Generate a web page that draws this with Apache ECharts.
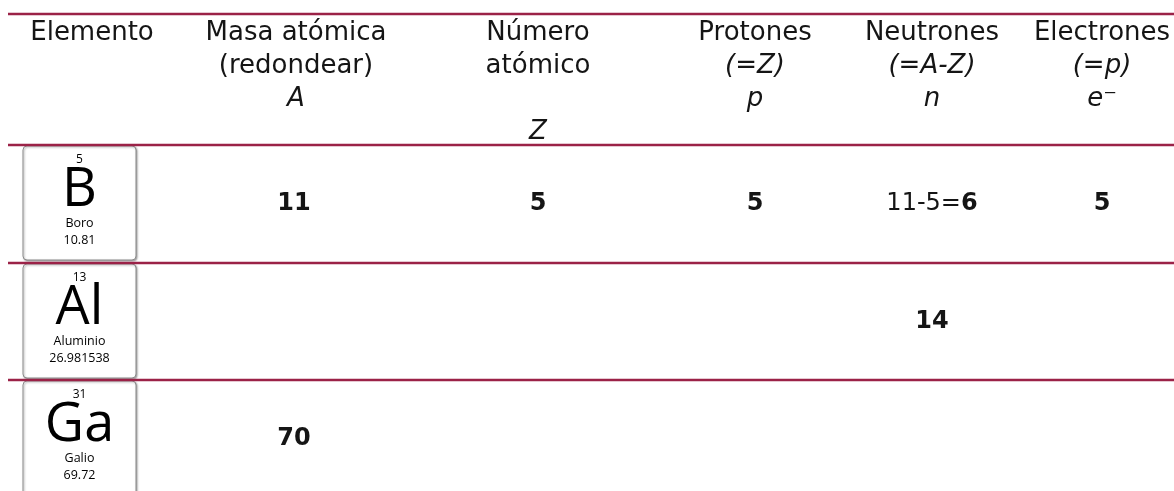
<!DOCTYPE html>
<html><head><meta charset="utf-8">
<script src="https://cdn.jsdelivr.net/npm/echarts@6/dist/echarts.min.js"></script>
<style>html,body{margin:0;padding:0;background:#fff}#c{width:1174px;height:491px}</style>
</head><body><div id="c"></div>
<script>
// ---- data ----
const headers = [
  ['Elemento'],
  ['Masa atómica', '(redondear)', '{i|A}'],
  ['Número', 'atómico', '', '{i|Z}'],
  ['Protones', '{i|(=Z)}', '{i|p}'],
  ['Neutrones', '{i|(=A-Z)}', '{i|n}'],
  ['Electrones', '{i|(=p)}', '{i|e⁻}']
];
const symbols = ['B', 'Al', 'Ga'];
const elementNames = ['Boro', 'Aluminio', 'Galio'];
const atomicNumbers = ['5', '13', '31'];
const atomicMasses = ['10.81', '26.981538', '69.72'];
const massNumberA = ['11', '', '70'];
const atomicNumberZ = ['5', '', ''];
const protons = ['5', '', ''];
const neutronWork = ['11-5=', '', ''];
const neutrons = ['6', '14', ''];
const electrons = ['5', '', ''];

// ---- layout ----
const W = 1174, H = 491;
const headerCenters = [92, 296, 538, 755, 932, 1102];
const bodyCenters = [80, 294, 538, 755, 932, 1102];
const rowEdges = [14, 145, 263, 380, 497];
const lineColor = '#9b2247';
const txt = '#151515';
const fam = '"DejaVu Sans", sans-serif';
const cardFam = '"Open Sans", sans-serif';

const chart = echarts.init(document.getElementById('c'), null, {renderer: 'canvas'});

function headerItem(params, api) {
  const i = params.dataIndex;
  const p = api.coord([headerCenters[i], rowEdges[0] + 3]);
  return {
    type: 'text', x: p[0], y: p[1],
    style: {
      text: headers[i].join('\n'), align: 'center', verticalAlign: 'top',
      font: '26px ' + fam, fill: txt, lineHeight: 33,
      rich: { i: { fontStyle: 'italic', fontSize: 26, fontFamily: 'DejaVu Sans', lineHeight: 33, fill: txt } }
    }
  };
}

function lineItem(params, api) {
  const y = rowEdges[params.dataIndex];
  const a = api.coord([8, y]), b = api.coord([W, y]);
  return { type: 'line', shape: { x1: a[0], y1: a[1], x2: b[0], y2: b[1] },
    style: { stroke: lineColor, lineWidth: 2.5 } };
}

function rowItem(params, api) {
  const r = params.dataIndex;
  const top = rowEdges[r + 1] + 1;
  const cy = (rowEdges[r + 1] + rowEdges[r + 2]) / 2;
  const tl = api.coord([23, top]);
  const br = api.coord([136, top + 114]);
  const cx = (tl[0] + br[0]) / 2;
  const children = [
    { type: 'rect', shape: { x: tl[0], y: tl[1], width: br[0] - tl[0], height: br[1] - tl[1], r: 4 },
      style: { fill: '#fff', stroke: '#8c8c8c', lineWidth: 1, shadowBlur: 2, shadowOffsetX: 1, shadowOffsetY: 1, shadowColor: 'rgba(0,0,0,0.35)' } },
    { type: 'text', x: cx, y: tl[1] + 14, style: { text: atomicNumbers[r], align: 'center', verticalAlign: 'middle', font: '12px ' + cardFam, fill: '#000' } },
    { type: 'text', x: cx, y: tl[1] + 45, style: { text: symbols[r], align: 'center', verticalAlign: 'middle', font: '54px ' + cardFam, fill: '#000' } },
    { type: 'text', x: cx, y: tl[1] + 77, style: { text: elementNames[r], align: 'center', verticalAlign: 'middle', font: '12.5px ' + cardFam, fill: '#000' } },
    { type: 'text', x: cx, y: tl[1] + 94, style: { text: atomicMasses[r], align: 'center', verticalAlign: 'middle', font: '12.5px ' + cardFam, fill: '#000' } }
  ];
  [[1, massNumberA], [2, atomicNumberZ], [3, protons], [5, electrons]].forEach(function (pair) {
    const v = pair[1][r];
    if (!v) return;
    const p = api.coord([bodyCenters[pair[0]], cy]);
    children.push({ type: 'text', x: p[0], y: p[1], style: { text: v, align: 'center', verticalAlign: 'middle', font: 'bold 24px ' + fam, fill: txt } });
  });
  if (neutrons[r]) {
    const p = api.coord([bodyCenters[4], cy]);
    const s = (neutronWork[r] ? '{r|' + neutronWork[r] + '}' : '') + '{b|' + neutrons[r] + '}';
    children.push({ type: 'text', x: p[0], y: p[1], style: { text: s, align: 'center', verticalAlign: 'middle',
      rich: { r: { font: '24px ' + fam, fill: txt }, b: { font: 'bold 24px ' + fam, fill: txt } } } });
  }
  return { type: 'group', children: children };
}

chart.setOption({
  animation: false,
  grid: { left: 0, right: 0, top: 0, bottom: 0 },
  xAxis: { type: 'value', min: 0, max: W, show: false },
  yAxis: { type: 'value', min: 0, max: H, inverse: true, show: false },
  series: [
    { type: 'custom', renderItem: headerItem, data: headers.map(function (h, i) { return [i]; }), silent: true },
    { type: 'custom', renderItem: rowItem, data: symbols.map(function (s, i) { return [i]; }), silent: true },
    { type: 'custom', renderItem: lineItem, data: rowEdges.slice(0, 4).map(function (y) { return [y]; }), silent: true, z: 5 }
  ]
});
</script></body></html>
